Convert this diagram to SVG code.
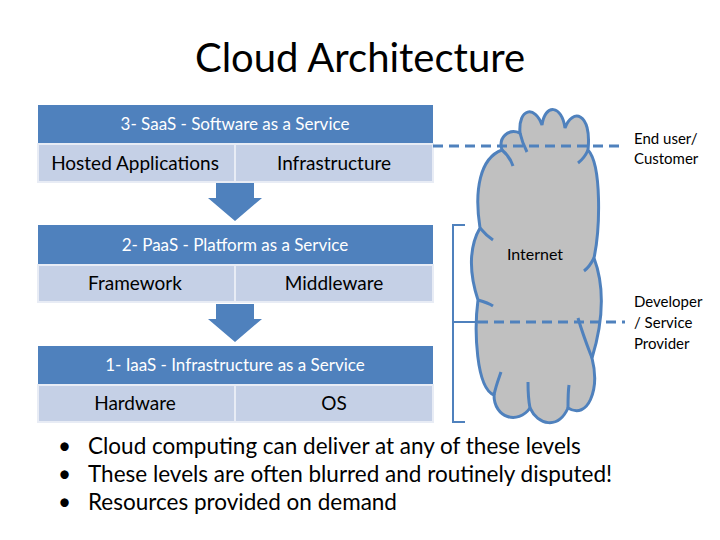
<svg xmlns="http://www.w3.org/2000/svg" width="720" height="540" viewBox="0 0 720 540">
<style>
text{font-family:Lato,"Open Sans","Liberation Sans",sans-serif;fill:#000}
.hd{fill:#4f81bd}
.cell{fill:#c5d0e6;stroke:#e8ecf5;stroke-width:2}
.ht{fill:#fff;font-size:17px;text-anchor:middle}
.ct{font-size:19px;text-anchor:middle}
.arr{fill:#4f81bd}
.dash{stroke:#4f81bd;stroke-width:3;stroke-dasharray:10,6;fill:none}
.bl{font-size:22.5px}
.lb{font-size:15px}
</style>
<rect width="720" height="540" fill="#fff"/>
<text x="360" y="72" font-size="40" text-anchor="middle">Cloud Architecture</text>
<g id="saas">
<rect class="hd" x="38" y="105" width="395" height="38"/>
<text class="ht" x="235" y="130">3- SaaS - Software as a Service</text>
<rect class="cell" x="38" y="144" width="197" height="38"/>
<rect class="cell" x="235" y="144" width="198" height="38"/>
<text class="ct" x="135" y="170">Hosted Applications</text>
<text class="ct" x="334" y="170">Infrastructure</text>
</g>
<g id="paas">
<rect class="hd" x="38" y="225" width="395" height="39"/>
<text class="ht" x="235" y="251">2- PaaS - Platform as a Service</text>
<rect class="cell" x="38" y="265" width="197" height="37"/>
<rect class="cell" x="235" y="265" width="198" height="37"/>
<text class="ct" x="135" y="290">Framework</text>
<text class="ct" x="334" y="290">Middleware</text>
</g>
<g id="iaas">
<rect class="hd" x="38" y="346" width="395" height="38"/>
<text class="ht" x="235" y="371">1- IaaS - Infrastructure as a Service</text>
<rect class="cell" x="38" y="385" width="197" height="37"/>
<rect class="cell" x="235" y="385" width="198" height="37"/>
<text class="ct" x="135" y="410">Hardware</text>
<text class="ct" x="334" y="410">OS</text>
</g>
<g id="cloud">
<path d="M502,150 C498,138 508,128 520,133 C518,108 535,105 542,125 C545,103 562,105 565,128 C572,108 592,112 588,150 C602,165 600,230 594,258 C606,290 602,325 592,358 C600,390 588,420 568,408 C558,430 538,425 530,408 C518,425 494,418 494,395 C476,388 474,330 478,300 C468,270 470,245 480,228 C474,190 480,158 502,150 Z" fill="#c0c0c0" stroke="#4f81bd" stroke-width="3"/>
<path d="M502,150 C507,154 511,160 513,166 M520,133 C522,142 525,148 527,152 M588,150 C585,157 582,160 578,163 M594,258 C591,264 588,268 584,271 M480,228 C485,234 490,238 493,240 M478,300 C485,302 490,304 493,306 M592,358 C587,345 583,335 578,318 M494,395 C496,385 499,378 501,372 M530,408 C528,398 528,390 528,382 M568,408 C568,398 568,392 569,385" fill="none" stroke="#4f81bd" stroke-width="3"/>
<text x="535" y="260" font-size="16" text-anchor="middle">Internet</text>
</g>
<g id="labels">
<text class="lb" x="634" y="144">End user/</text>
<text class="lb" x="634" y="164">Customer</text>
<text class="lb" x="634" y="307">Developer</text>
<text class="lb" x="634" y="328">/ Service</text>
<text class="lb" x="634" y="349">Provider</text>
</g>
<g id="connectors">
<path class="arr" d="M216,183 H254 V198 H262 L235,221 L208,198 H216 Z"/>
<path class="arr" d="M216,304 H254 V319 H262 L235,342 L208,319 H216 Z"/>
<path d="M465,225 H453 V422 H465 M453,322 H478" fill="none" stroke="#4f81bd" stroke-width="2"/>
<line class="dash" x1="433" y1="146" x2="625" y2="146"/>
<line class="dash" x1="478" y1="322" x2="625" y2="322"/>
</g>
<g id="bullets">
<text class="bl" x="58" y="454">•</text><text class="bl" x="88" y="454">Cloud computing can deliver at any of these levels</text>
<text class="bl" x="58" y="482">•</text><text class="bl" x="88" y="482">These levels are often blurred and routinely disputed!</text>
<text class="bl" x="58" y="510">•</text><text class="bl" x="88" y="510">Resources provided on demand</text>
</g>
</svg>
